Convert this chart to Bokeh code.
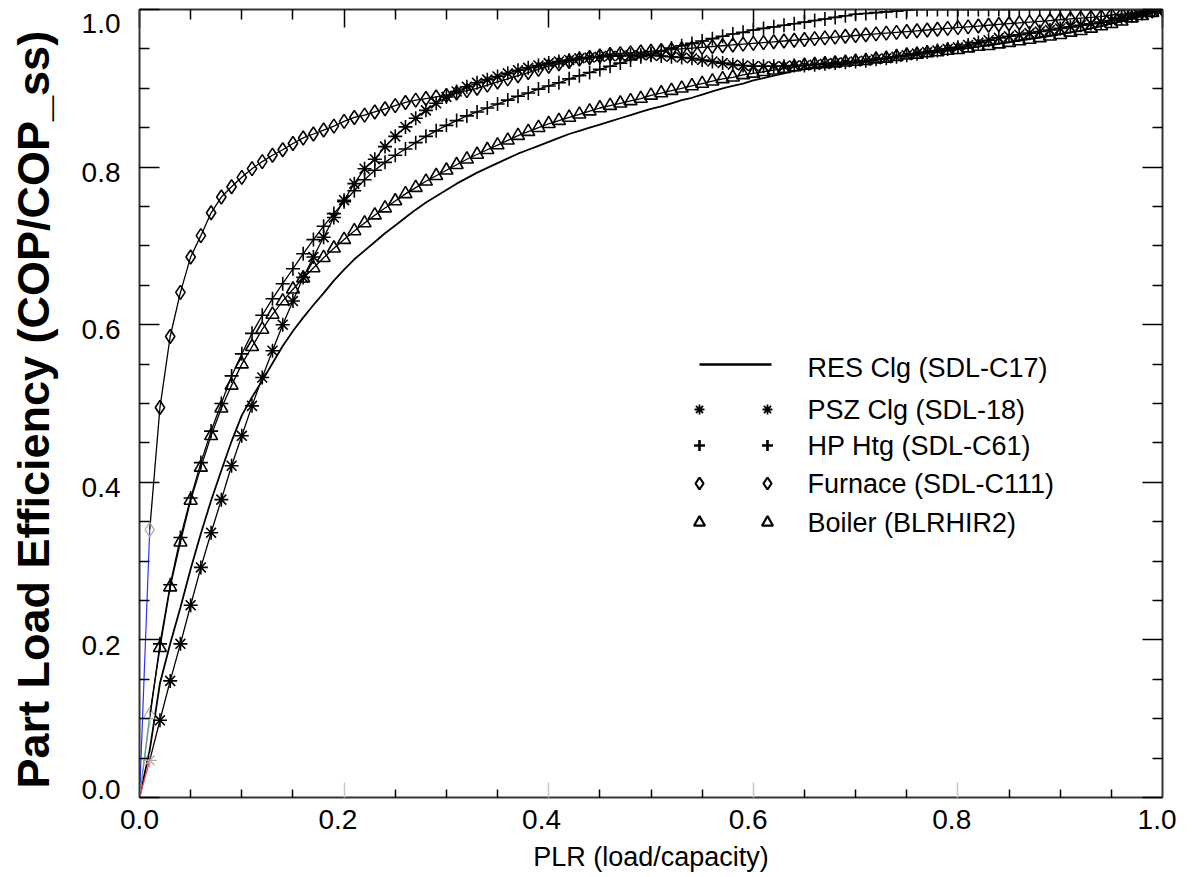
from bokeh.plotting import figure
from bokeh.models import Range1d, LinearAxis, FixedTicker, Label
from bokeh.embed import file_html
from bokeh.resources import INLINE

# ---------------- data ----------------
plr = [round(i * 0.01, 2) for i in range(101)]

res_clg = [0.0, 0.06, 0.145, 0.195, 0.241, 0.29, 0.335, 0.377, 0.415, 0.452,
           0.485, 0.508, 0.529, 0.551, 0.573, 0.592, 0.609, 0.625, 0.640, 0.656,
           0.670, 0.683, 0.694, 0.705, 0.716, 0.726, 0.736, 0.746, 0.755, 0.763,
           0.771, 0.779, 0.786, 0.793, 0.799, 0.805, 0.811, 0.817, 0.822, 0.827,
           0.832, 0.837, 0.842, 0.846, 0.850, 0.854, 0.858, 0.862, 0.866, 0.870,
           0.874, 0.877, 0.881, 0.885, 0.888, 0.892, 0.896, 0.900, 0.903, 0.906,
           0.910, 0.913, 0.916, 0.919, 0.922, 0.924, 0.926, 0.928, 0.930, 0.931,
           0.933, 0.934, 0.936, 0.938, 0.940, 0.941, 0.943, 0.945, 0.946, 0.948,
           0.950, 0.951, 0.953, 0.955, 0.957, 0.959, 0.961, 0.963, 0.965, 0.967,
           0.969, 0.971, 0.973, 0.976, 0.979, 0.982, 0.985, 0.988, 0.992, 0.996,
           1.000]

psz_clg = [0.0, 0.047, 0.098, 0.148, 0.195, 0.244, 0.292, 0.336, 0.378, 0.421,
           0.459, 0.497, 0.533, 0.567, 0.600, 0.630, 0.660, 0.686, 0.711, 0.736,
           0.758, 0.779, 0.798, 0.810, 0.826, 0.839, 0.851, 0.862, 0.872, 0.881,
           0.889, 0.896, 0.902, 0.907, 0.911, 0.915, 0.919, 0.923, 0.926, 0.929,
           0.932, 0.934, 0.936, 0.938, 0.939, 0.940, 0.941, 0.941, 0.942, 0.942,
           0.942, 0.941, 0.940, 0.939, 0.938, 0.936, 0.934, 0.932, 0.930, 0.929,
           0.928, 0.928, 0.928, 0.928, 0.929, 0.929, 0.930, 0.931, 0.932, 0.933,
           0.934, 0.935, 0.937, 0.938, 0.940, 0.942, 0.944, 0.946, 0.948, 0.950,
           0.952, 0.955, 0.958, 0.961, 0.964, 0.966, 0.968, 0.970, 0.972, 0.974,
           0.976, 0.978, 0.980, 0.982, 0.984, 0.986, 0.989, 0.992, 0.995, 0.998,
           1.000]

hp_htg = [0.0, 0.100, 0.195, 0.270, 0.330, 0.380, 0.425, 0.465, 0.500, 0.535,
          0.563, 0.589, 0.612, 0.633, 0.652, 0.671, 0.690, 0.708, 0.725, 0.741,
          0.756, 0.770, 0.784, 0.796, 0.806, 0.815, 0.823, 0.831, 0.839, 0.846,
          0.853, 0.859, 0.865, 0.870, 0.875, 0.880, 0.885, 0.890, 0.894, 0.899,
          0.903, 0.907, 0.912, 0.916, 0.920, 0.924, 0.928, 0.932, 0.936, 0.940,
          0.944, 0.947, 0.951, 0.954, 0.957, 0.960, 0.963, 0.966, 0.969, 0.971,
          0.974, 0.976, 0.978, 0.980, 0.982, 0.984, 0.986, 0.988, 0.990, 0.992,
          0.994, 0.995, 0.996, 0.997, 0.998, 0.999, 1.000, 1.000, 1.000, 1.000,
          1.000, 1.000, 1.000, 1.000, 1.000, 1.000, 1.000, 1.000, 1.000, 1.000,
          1.000, 1.000, 1.000, 1.000, 1.000, 1.000, 1.000, 1.000, 1.000, 1.000,
          1.000]

furnace = [0.0, 0.340, 0.495, 0.585, 0.641, 0.686, 0.713, 0.742, 0.762, 0.775,
           0.787, 0.798, 0.807, 0.815, 0.822, 0.830, 0.837, 0.842, 0.847, 0.852,
           0.858, 0.863, 0.866, 0.870, 0.874, 0.878, 0.882, 0.885, 0.887, 0.889,
           0.891, 0.894, 0.897, 0.900, 0.904, 0.908, 0.912, 0.916, 0.920, 0.924,
           0.928, 0.931, 0.934, 0.937, 0.939, 0.941, 0.943, 0.944, 0.945, 0.946,
           0.947, 0.948, 0.949, 0.950, 0.951, 0.952, 0.953, 0.954, 0.955, 0.956,
           0.957, 0.958, 0.959, 0.960, 0.961, 0.962, 0.963, 0.964, 0.965, 0.966,
           0.967, 0.968, 0.969, 0.970, 0.971, 0.972, 0.973, 0.974, 0.975, 0.976,
           0.977, 0.978, 0.979, 0.980, 0.981, 0.982, 0.983, 0.984, 0.985, 0.986,
           0.987, 0.988, 0.989, 0.990, 0.991, 0.993, 0.994, 0.995, 0.997, 0.998,
           1.000]

boiler = [0.0, 0.105, 0.190, 0.267, 0.324, 0.377, 0.419, 0.459, 0.494, 0.523,
          0.550, 0.572, 0.594, 0.613, 0.630, 0.645, 0.659, 0.672, 0.685, 0.697,
          0.708, 0.719, 0.729, 0.739, 0.748, 0.757, 0.766, 0.774, 0.782, 0.789,
          0.796, 0.803, 0.810, 0.816, 0.822, 0.828, 0.834, 0.840, 0.845, 0.850,
          0.855, 0.859, 0.863, 0.867, 0.871, 0.875, 0.878, 0.881, 0.884, 0.887,
          0.891, 0.894, 0.897, 0.900, 0.903, 0.906, 0.909, 0.912, 0.914, 0.917,
          0.919, 0.921, 0.923, 0.925, 0.927, 0.929, 0.930, 0.931, 0.932, 0.933,
          0.934, 0.935, 0.937, 0.938, 0.940, 0.942, 0.943, 0.945, 0.946, 0.948,
          0.949, 0.951, 0.953, 0.954, 0.956, 0.958, 0.960, 0.962, 0.964, 0.966,
          0.968, 0.971, 0.973, 0.976, 0.979, 0.982, 0.985, 0.989, 0.992, 0.996,
          1.000]

series_names = ["RES Clg (SDL-C17)", "PSZ Clg (SDL-18)", "HP Htg (SDL-C61)",
                "Furnace (SDL-C111)", "Boiler (BLRHIR2)"]
major_ticks = [0.0, 0.2, 0.4, 0.6, 0.8, 1.0]
minor_ticks = [0.05, 0.1, 0.15, 0.25, 0.3, 0.35, 0.45, 0.5, 0.55,
               0.65, 0.7, 0.75, 0.85, 0.9, 0.95]
tick_labels = ["0.0", "0.2", "0.4", "0.6", "0.8", "1.0"]
x_title = "PLR (load/capacity)"
y_title = "Part Load Efficiency  (COP/COP_ss)"

FONT = "Liberation Sans"

# ---------------- figure ----------------
p = figure(width=1176, height=876, x_range=Range1d(0, 1), y_range=Range1d(0, 1),
           output_backend="svg", toolbar_location=None,
           min_border_left=139, min_border_right=14, min_border_top=9,
           min_border_bottom=79)
p.grid.visible = False
p.outline_line_color = "black"
p.outline_line_width = 1.5
p.background_fill_color = "white"
p.border_fill_color = "white"

tick_ticker = FixedTicker(ticks=major_ticks, minor_ticks=minor_ticks)


def tick_only(ax, major_in, minor_in, major_color="black"):
    ax.ticker = tick_ticker
    ax.axis_line_color = "#333333"
    ax.axis_line_width = 1.5
    ax.major_tick_in = major_in
    ax.major_tick_out = 0
    ax.minor_tick_in = minor_in
    ax.minor_tick_out = 0
    ax.major_tick_line_color = major_color
    ax.major_tick_line_width = 1.5
    ax.minor_tick_line_color = "black"
    ax.minor_tick_line_width = 1.5
    ax.major_label_overrides = {t: "" for t in major_ticks}
    ax.major_label_text_font_size = "8px"
    ax.major_label_standoff = 0


def label_only(label_pos, standoff):
    ax = LinearAxis(ticker=FixedTicker(ticks=label_pos, minor_ticks=[]))
    ax.axis_line_color = None
    ax.major_tick_line_color = None
    ax.minor_tick_line_color = None
    ax.major_tick_in = 0
    ax.major_tick_out = 0
    ax.minor_tick_in = 0
    ax.minor_tick_out = 0
    ax.major_label_overrides = {t: s for t, s in zip(label_pos, tick_labels)}
    ax.major_label_text_font = FONT
    ax.major_label_text_font_size = "28px"
    ax.major_label_text_color = "black"
    ax.major_label_standoff = standoff
    ax.axis_label_text_color = "black"
    ax.axis_label_text_font = FONT
    return ax


# axes that draw the frame ticks (all four sides)
tick_only(p.xaxis[0], 15, 8, major_color="#c8c8c8")
tick_only(p.yaxis[0], 20, 10)
for loc, mj in (("above", 18), ("right", 20)):
    ax = LinearAxis()
    tick_only(ax, mj, 10)
    p.add_layout(ax, loc)

# axes that carry the number labels, set slightly off the ticks as in the original
xlab = label_only([0.0, 0.194, 0.393, 0.595, 0.794, 0.996], 12)
xlab.axis_label = x_title
xlab.axis_label_text_font_size = "27px"
xlab.axis_label_text_font_style = "normal"
xlab.axis_label_standoff = 10
p.add_layout(xlab, "below")

ylab = label_only([0.01, 0.193, 0.394, 0.594, 0.793, 0.982], 19)
ylab.axis_label = y_title
ylab.axis_label_text_font_size = "45px"
ylab.axis_label_text_font_style = "bold"
ylab.axis_label_standoff = 20
p.add_layout(ylab, "left")

# ---------------- curves ----------------
p.line(plr, res_clg, line_color="black", line_width=1.8)

marker_series = [
    (boiler, "triangle", 13, "#33e0b0"),
    (hp_htg, "cross", 14, "#888888"),
    (psz_clg, "asterisk", 14, "#ff4040"),
    (furnace, "diamond", 14, "#3030ff"),
]
for vals, mk, sz, c0 in marker_series:
    p.line(plr[:2], vals[:2], line_color=c0, line_width=1.2)
    p.line(plr[1:], vals[1:], line_color="black", line_width=1.3)
    p.scatter(plr[2:], vals[2:], marker=mk, size=sz, line_color="black",
              fill_color=None, line_width=1.6)
    p.scatter(plr[1:2], vals[1:2], marker=mk, size=sz, line_color="#aaaaaa",
              fill_color=None, line_width=1.2)

# ---------------- legend (pixel-like helper ranges over the plot frame) ----------------
p.extra_x_ranges = {"px": Range1d(0, 1023)}
p.extra_y_ranges = {"py": Range1d(0, 788)}
leg_y = [430, 388, 352, 314, 275]
p.line([560, 632], [leg_y[0] + 3, leg_y[0] + 3], line_color="black", line_width=2.5,
       x_range_name="px", y_range_name="py")
leg_markers = [("asterisk", 10, 1.8), ("cross", 11, 2.6), ("diamond", 12, 2.2), ("triangle", 11, 2.2)]
for (mk, sz, lw), yy in zip(leg_markers, leg_y[1:]):
    p.scatter([560, 628], [yy, yy], marker=mk, size=sz, line_color="black",
              fill_color=None, line_width=lw, x_range_name="px", y_range_name="py")

for name, yy in zip(series_names, leg_y):
    p.add_layout(Label(x=668, y=yy, x_units="screen", y_units="screen", text=name,
                       text_font=FONT, text_font_size="27px", text_color="black",
                       text_baseline="middle", text_align="left"))

open("out.html", "w").write(file_html(p, INLINE))
